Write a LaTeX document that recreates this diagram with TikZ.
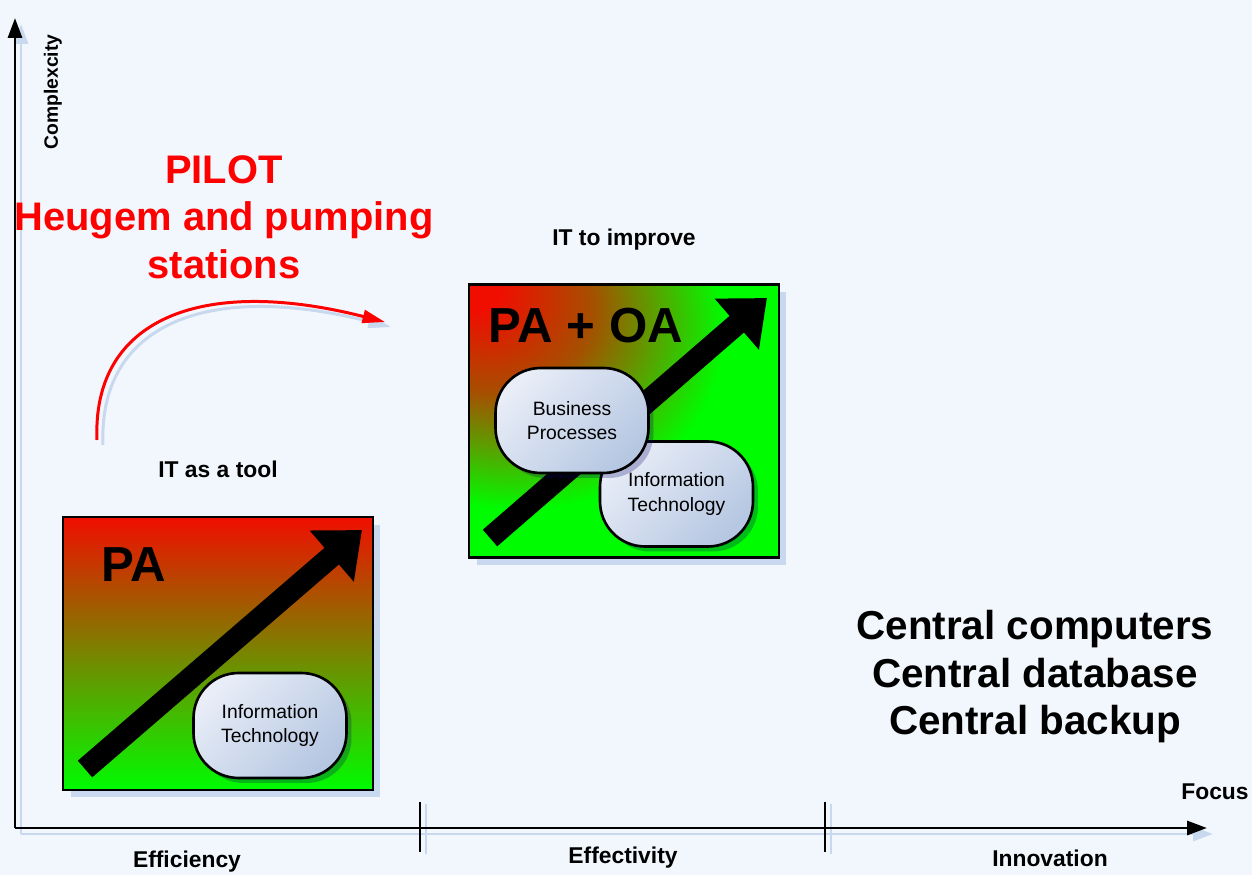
\documentclass[tikz,border=0pt]{standalone}
\usepackage{fontspec}
\setmainfont{Liberation Sans}
\usetikzlibrary{arrows.meta,shadows}
\definecolor{bgblue}{RGB}{242,247,253}
\definecolor{shadowblue}{RGB}{200,216,238}
\definecolor{boxred}{RGB}{240,14,0}
\definecolor{boxgreen}{RGB}{0,252,0}
\definecolor{boxbrown}{RGB}{165,80,0}
\definecolor{boxolive}{RGB}{90,160,0}
\definecolor{pillight}{RGB}{232,237,247}
\definecolor{pildark}{RGB}{182,199,226}
\definecolor{pilotred}{RGB}{255,0,0}
\pgfdeclareradialshading{stagecorner}{\pgfpoint{-25bp}{25bp}}{color(0bp)=(boxred); color(4bp)=(boxred); color(16bp)=(boxbrown); color(24bp)=(boxolive); color(33bp)=(boxgreen); color(100bp)=(boxgreen)}

\begin{document}
\begin{tikzpicture}[x=0.02cm,y=-0.02cm,line width=1.6pt,
    axis/.style={line width=1.7pt,-{Triangle[length=0.4cm,width=0.28cm]}},
    axisshadow/.style={draw=shadowblue,line width=1.7pt,-{Triangle[length=0.4cm,width=0.28cm]}},
    tick/.style={line width=1.4pt},
    stagebox/.style={draw,line width=1.6pt,minimum width=6.2cm,minimum height=5.46cm,
      drop shadow={shadow xshift=0.15cm,shadow yshift=-0.15cm,fill=shadowblue,opacity=1}},
    pill/.style={draw,line width=1.5pt,rounded corners=0.9cm,minimum width=3.06cm,minimum height=2.1cm,
      top color=pillight,bottom color=pildark,shading angle=45,align=center,
      font=\fontsize{11}{14}\selectfont,
      drop shadow={shadow xshift=0.1cm,shadow yshift=-0.1cm,fill=black!60!blue,opacity=0.25}},
    bigarrow/.style={line width=0.44cm,-{Triangle[length=0.8cm,width=1.3cm]}},
    stagelabel/.style={anchor=base west,inner sep=0,font=\fontsize{28}{32}\selectfont\bfseries},
    smalllabel/.style={font=\fontsize{13}{15}\selectfont\bfseries},
    bigtext/.style={anchor=north,inner sep=0,align=center,font=\fontsize{22.7}{27}\selectfont\bfseries}]
    \useasboundingbox[fill=bgblue] (0,0) rectangle (1252,875);

    \coordinate (o) at (15,828);
    \coordinate (ytop) at (15,18);
    \coordinate (xend) at (1207,828);
    \coordinate (t1a) at (420,802);
    \coordinate (t1b) at (420,852);
    \coordinate (t2a) at (825,802);
    \coordinate (t2b) at (825,852);

    \draw[axisshadow] ([shift={(6,6)}]o) -- ([shift={(6,6)}]ytop);
    \draw[axisshadow] ([shift={(6,6)}]o) -- ([shift={(6,6)}]xend);
    \draw[tick,shadowblue] ([shift={(6,2)}]t1a) -- ([shift={(6,2)}]t1b)
                           ([shift={(6,2)}]t2a) -- ([shift={(6,2)}]t2b);
    \draw[axis] (o) -- (ytop);
    \draw[axis] (o) -- (xend);
    \draw[tick] (t1a) -- (t1b) (t2a) -- (t2b);

    \node[smalllabel,rotate=90,font=\fontsize{11}{12}\selectfont\bfseries] (yname) at (53,92) {Complexcity};
    \node[smalllabel] (xname) at (1215,792) {Focus};
    \node[smalllabel] (eff) at (187,862) {Efficiency};
    \node[smalllabel] (effect) at (623,858) {Effectivity};
    \node[smalllabel] (innov) at (1050,858) {Innovation};

    \node[bigtext,text=pilotred] (pilot) at (224,154) {PILOT\\Heugem and pumping\\stations};
    \coordinate (cstart) at (97,440);
    \coordinate (cend) at (385,322);
    \draw[shadowblue,line width=1.7pt,-{Triangle[length=0.45cm,width=0.26cm]}]
      ([shift={(6,5)}]cstart) .. controls (98,325) and (206,280) .. ([shift={(6,5)}]cend);
    \draw[pilotred,line width=1.7pt,-{Triangle[length=0.45cm,width=0.26cm]}]
      (cstart) .. controls (92,320) and (200,275) .. (cend);

    \node[smalllabel] (tool) at (218,469) {IT as a tool};
    \node[stagebox,top color=boxred,bottom color=boxgreen] (pa) at (218,653.5) {};
    \coordinate (patail) at (85,769);
    \coordinate (patip) at (362,530);
    \draw[bigarrow] (patail) -- (patip);
    \node[pill] (it1) at (270,725.5) {Information\\Technology};
    \node[stagelabel] (palbl) at (100,581) {PA};

    \node[smalllabel] (improve) at (624,240) {IT to improve};
    \node[stagebox,shade,shading=stagecorner] (paoa) at (624,421) {};
    \coordinate (oatail) at (490,538);
    \coordinate (oatip) at (767,298);
    \draw[bigarrow] (oatail) -- (oatip);
    \node[pill] (it2) at (676.5,494) {Information\\Technology};
    \node[pill] (bp) at (572,420.5) {Business\\Processes};
    \node[stagelabel] (paoalbl) at (487,342) {PA + OA};

    \node[bigtext,font=\fontsize{23}{27}\selectfont\bfseries] (central) at (1035,609) {Central computers\\Central database\\Central backup};
  \end{tikzpicture}
\end{document}
